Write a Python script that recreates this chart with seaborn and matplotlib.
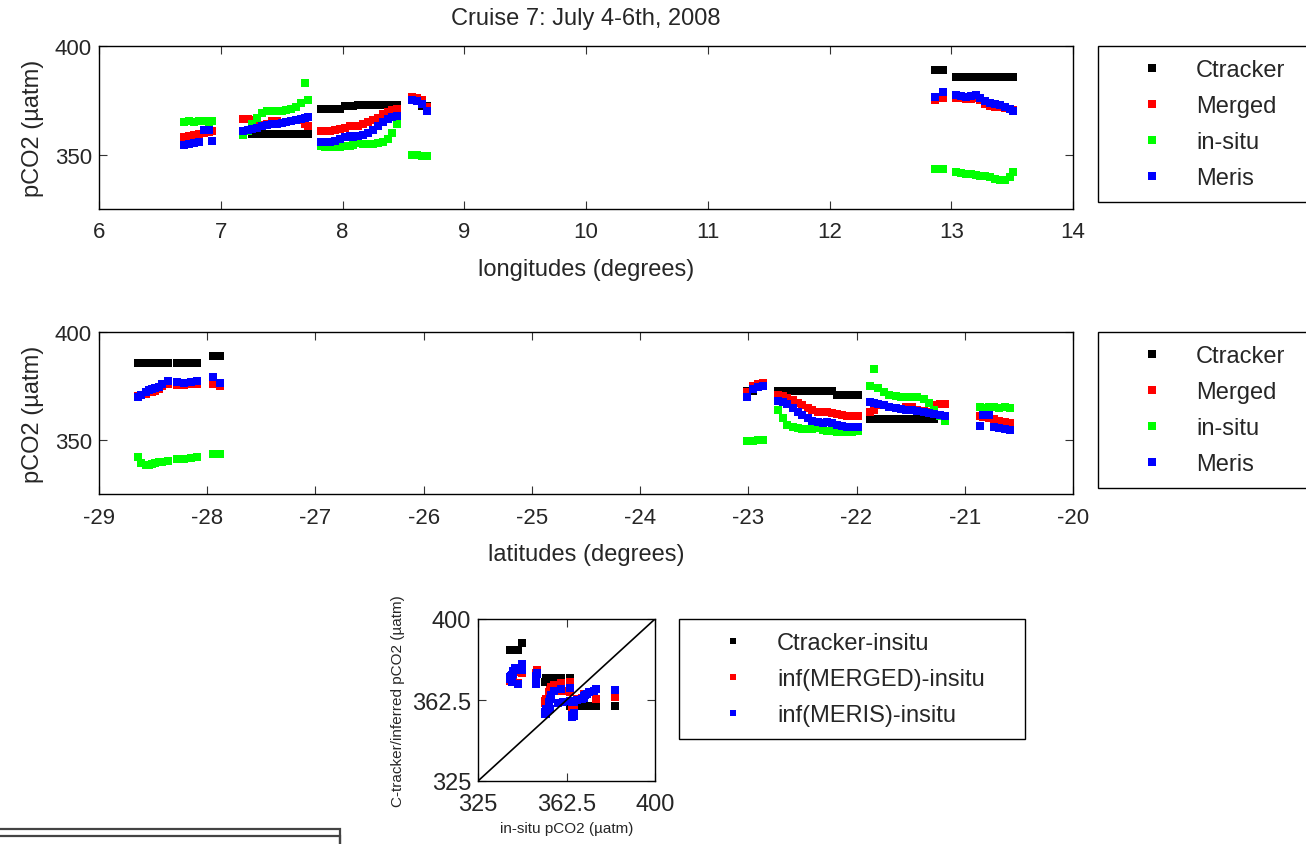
import numpy as np
import pandas as pd
import seaborn as sns
import matplotlib.pyplot as plt
from matplotlib.lines import Line2D
from matplotlib.patches import Rectangle

nan = np.nan

# ship track samples (longitude up, latitude down) and the four pCO2 series
lon = [6.70, 6.74, 6.78, 6.82, 6.86, 6.90, 6.93,
       7.18, 7.22, 7.26, 7.30, 7.34, 7.38, 7.42, 7.46, 7.50, 7.54, 7.58, 7.62, 7.66, 7.69, 7.72,
       7.82, 7.86, 7.90, 7.94, 7.98, 8.02, 8.06, 8.09,
       8.13, 8.17, 8.21, 8.25, 8.29, 8.33, 8.37, 8.41, 8.45,
       8.57, 8.61, 8.65, 8.69,
       12.87, 12.93,
       13.04, 13.08, 13.12, 13.16, 13.20, 13.24, 13.28, 13.32, 13.36, 13.40, 13.44, 13.48, 13.51]
lat = [-20.58, -20.63, -20.68, -20.73, -20.78, -20.83, -20.86,
       -21.18, -21.23, -21.28, -21.33, -21.38, -21.44, -21.49, -21.54, -21.59, -21.64, -21.70, -21.75, -21.80, -21.84, -21.88,
       -21.99, -22.04, -22.09, -22.13, -22.18, -22.23, -22.27, -22.31,
       -22.36, -22.41, -22.45, -22.50, -22.54, -22.59, -22.64, -22.68, -22.73,
       -22.86, -22.91, -22.96, -23.01,
       -27.88, -27.95,
       -28.09, -28.15, -28.21, -28.28, -28.36, -28.42, -28.45, -28.48, -28.51, -28.54, -28.57, -28.61, -28.64]
ctracker = [nan, nan, nan, nan, nan, nan, nan,
            nan, nan, 359.5, 359.5, 359.5, 359.5, 359.5, 359.5, 359.5, 359.5, 359.5, 359.5, 359.5, 359.5, 359.5,
            370.8, 370.8, 370.8, 370.8, 370.8, 372.6, 372.6, 372.6,
            372.9, 372.9, 372.9, 372.9, 372.9, 372.9, 372.9, 372.9, 372.9,
            nan, nan, 372.5, 372.5,
            389, 389,
            385.6, 385.6, 385.6, 385.6, 385.6, 385.6, 385.6, 385.6, 385.6, 385.6, 385.6, 385.6, 385.6]
merged = [358, 358.5, 359, 359.5, 360, 360.5, 361,
          366.5, 366.5, 366, 363, 363.5, 364, 365.5, 365.5, 364.5, 365, 365.5, 366, 366, 364, 363,
          361, 361, 361, 361.5, 362, 362.5, 363, 363,
          363, 364, 365, 366, 367, 368.5, 369.5, 370.5, 371,
          376.5, 376, 375, 372,
          375, 376,
          376, 376, 375.5, 375.5, 376, 375, 373.5, 372.5, 372, 372, 371.5, 371, 370.5]
insitu = [365, 365.5, 365, 365.5, 365.5, 365, 365.5,
          359, 361, 364, 367, 369, 370, 370, 370, 370, 370.5, 371, 372, 374, 383, 375,
          354, 353.5, 353.5, 353.5, 353.5, 354, 354, 354.5,
          355.5, 355, 355, 355, 355.5, 356, 357, 360, 364,
          350, 350, 349.5, 349.5,
          343.5, 343.5,
          342, 341.5, 341, 341, 340.5, 340, 340, 339.5, 339, 338.5, 338.5, 339.5, 342]
meris = [354.5, 355, 355.5, 356, 361.5, 361.5, 356.5,
         361, 361.5, 362, 362.5, 363, 363.5, 364, 364, 364.5, 365, 365.5, 366, 366.5, 367, 367.5,
         356, 356, 356, 356.5, 357, 358, 358.5, 358,
         358.5, 359, 360, 361.5, 363, 365, 366.5, 367.5, 368,
         375, 374.5, 373.5, 370,
         376.5, 379,
         377.5, 377, 376.5, 377, 377.5, 376, 374.5, 374, 373.5, 373, 372, 371, 370]

series = ["Ctracker", "Merged", "in-situ", "Meris"]
colors = {"Ctracker": "black", "Merged": "#ff0000", "in-situ": "#00ff00", "Meris": "#0000ff"}
scatter_labels = {"Ctracker": "Ctracker-insitu", "Merged": "inf(MERGED)-insitu", "Meris": "inf(MERIS)-insitu"}

df = pd.DataFrame({"lon": lon, "lat": lat, "Ctracker": ctracker, "Merged": merged,
                   "in-situ": insitu, "Meris": meris})

sns.set_style("ticks", {"xtick.direction": "in", "ytick.direction": "in"})
plt.rcParams["font.family"] = ["Liberation Sans", "DejaVu Sans"]
plt.rcParams["axes.linewidth"] = 1.0
plt.rcParams["axes.unicode_minus"] = False

W, H = 1306, 845
fig = plt.figure(figsize=(W / 100, H / 100), dpi=100)


def px_axes(x0, y0, x1, y1):
    return fig.add_axes([x0 / W, 1 - y1 / H, (x1 - x0) / W, (y1 - y0) / H])


def style(ax, fs):
    ax.tick_params(top=True, right=True, length=6, width=0.8, labelsize=fs, color="#333333")
    for sp in ax.spines.values():
        sp.set_color("black")


def add_legend(handles, labels, x0, y0, w):
    fig.legend(handles, labels, loc="upper left", bbox_to_anchor=(x0 / W, 1 - y0 / H, w / W, 0),
               bbox_transform=fig.transFigure, mode="expand", fontsize=17, frameon=True,
               fancybox=False, framealpha=1, edgecolor="black", borderpad=0.55,
               labelspacing=0.6, handlelength=3.5, handletextpad=0.1, borderaxespad=0)


def track_panel(ax, xcol, xlim, xticks, xlabel):
    for name in series:
        sns.scatterplot(data=df, x=xcol, y=name, color=colors[name], marker="s", s=34,
                        linewidth=0, ax=ax, legend=False)
    ax.set_xlim(*xlim)
    ax.set_ylim(325, 400)
    ax.set_xticks(xticks)
    ax.set_yticks([350, 400])
    ax.set_xlabel(xlabel, fontsize=17)
    ax.set_ylabel("pCO2 (\u00b5atm)", fontsize=17)
    ax.xaxis.set_label_coords(0.5, -0.3)
    ax.yaxis.set_label_coords(-0.056, 0.5)
    style(ax, 16)
    ax.tick_params(axis="x", pad=9)
    ax.tick_params(axis="y", pad=5)


def legend_handles(names, size):
    return [Line2D([], [], ls="", marker="s", markersize=size, color=colors[n], markeredgewidth=0)
            for n in names]


# longitude panel
ax1 = px_axes(99, 47, 1073, 210)
track_panel(ax1, "lon", (6, 14), range(6, 15), "longitudes (degrees)")
ax1.set_title("Cruise 7: July 4-6th, 2008", fontsize=17, pad=16)
add_legend(legend_handles(series, 5.5), series, 1098, 47, 260)

# latitude panel
ax2 = px_axes(99, 333, 1073, 495)
track_panel(ax2, "lat", (-29, -20), range(-29, -19), "latitudes (degrees)")
add_legend(legend_handles(series, 5.5), series, 1098, 333, 260)

# in-situ vs inferred
ax3 = px_axes(478, 620, 655, 782)
for name in ["Ctracker", "Merged", "Meris"]:
    sns.scatterplot(data=df, x="in-situ", y=name, color=colors[name], marker="s", s=34,
                    linewidth=0, ax=ax3, legend=False)
ax3.plot([325, 400], [325, 400], color="black", lw=1.2)
ax3.set_xlim(325, 400)
ax3.set_ylim(325, 400)
ax3.set_xticks([325, 362.5, 400])
ax3.set_yticks([325, 362.5, 400])
ax3.set_xticklabels(["325", "362.5", "400"])
ax3.set_yticklabels(["325", "362.5", "400"])
ax3.set_xlabel("in-situ pCO2 (\u00b5atm)", fontsize=11)
ax3.set_ylabel("C-tracker/inferred pCO2 (\u00b5atm)", fontsize=11)
ax3.xaxis.set_label_coords(0.5, -0.25)
ax3.yaxis.set_label_coords(-0.41, 0.5)
style(ax3, 17)
ax3.tick_params(axis="x", pad=9)
ax3.tick_params(axis="y", pad=5)
add_legend(legend_handles(["Ctracker", "Merged", "Meris"], 4.5),
           [scatter_labels[n] for n in ["Ctracker", "Merged", "Meris"]], 679, 620, 346)

# leftover frame edges at the bottom-left corner
for top in (830, 837):
    fig.add_artist(Rectangle((-0.01, 1 - top / H - 0.1), (340 / W) + 0.01, 0.1,
                             transform=fig.transFigure, fill=False, edgecolor="#444444", lw=1.6))

fig.savefig("out.png", dpi=100)
